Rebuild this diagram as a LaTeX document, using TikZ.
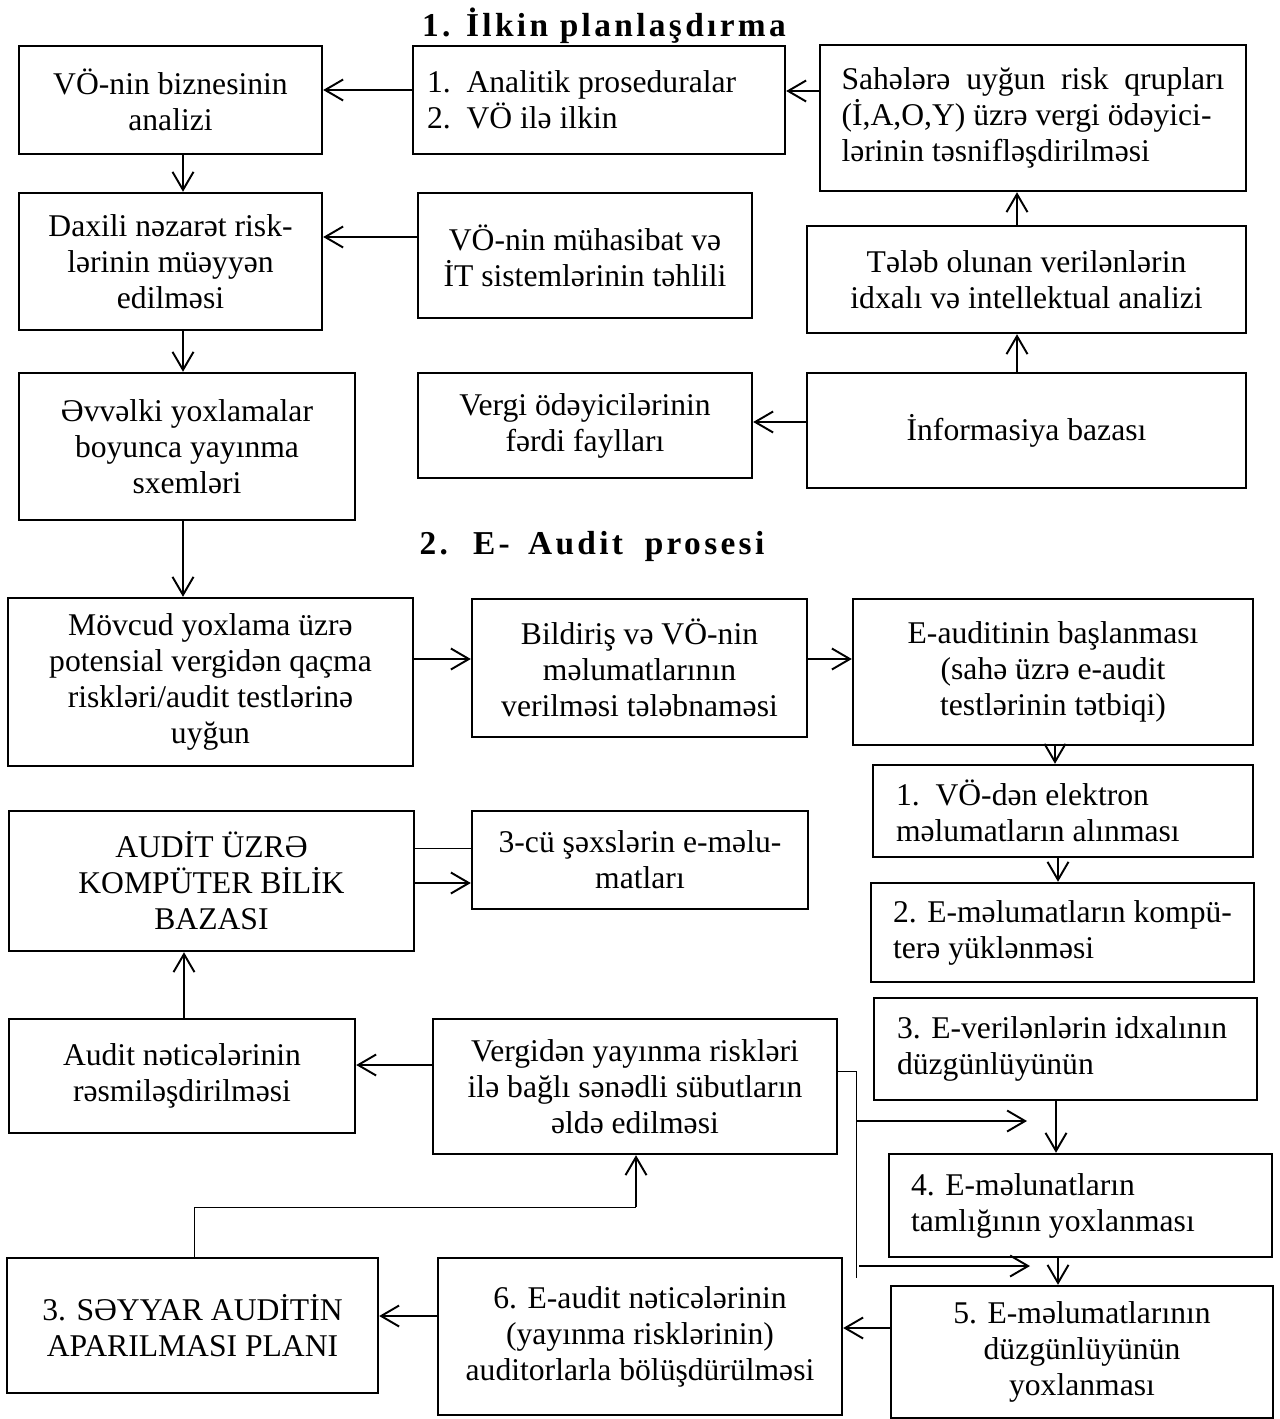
\documentclass[tikz,border=0pt]{standalone}
\usepackage{fontspec}
\setmainfont{Liberation Serif}
\newfontfamily\headfont[LetterSpace=10]{Liberation Serif}
\usetikzlibrary{arrows.meta}

\begin{document}
\begin{tikzpicture}[x=0.02cm,y=-0.02cm,>={Straight Barb[length=0.36cm,width=0.42cm]},
  box/.style={draw,line width=1.4pt,align=center,inner sep=0pt,
    font=\fontsize{18}{20.5}\selectfont},
  lbox/.style={box,align=flush left,inner xsep=0.4cm},
  head/.style={font=\fontsize{19}{21}\selectfont\headfont\bfseries},
  ar/.style={->,line width=1.1pt},
  ln/.style={line width=0.5pt}]
  \useasboundingbox (0,0) rectangle (1280,1419);

  % 1. Ilkin planlasdirma
  \node[head] (head1) at (604,26) {1. İlkin planlaşdırma};

  \node[box,minimum width=6.06cm,minimum height=2.16cm] (biz) at (170.5,100)
    {VÖ-nin biznesinin\\analizi};
  \node[lbox,minimum width=7.44cm,minimum height=2.16cm,inner xsep=0.28cm,text width=6.88cm] (proc) at (599,100)
    {1.\hspace{0.5em}Analitik proseduralar\\2.\hspace{0.5em}VÖ ilə ilkin};
  \node[box,minimum width=8.52cm,minimum height=2.92cm,align=left] (risk) at (1033,118)
    {Sahələrə\ \ uyğun\ \ risk\ \ qrupları\\(İ,A,O,Y) üzrə vergi ödəyici-\\lərinin təsnifləşdirilməsi};
  \node[box,minimum width=6.06cm,minimum height=2.74cm] (dax) at (170.5,261.5)
    {Daxili nəzarət risk-\\lərinin müəyyən\\edilməsi};
  \node[box,minimum width=6.68cm,minimum height=2.5cm] (it) at (585,255.5)
    {VÖ-nin mühasibat və\\İT sistemlərinin təhlili};
  \node[box,minimum width=8.78cm,minimum height=2.14cm] (idx) at (1026.5,279.5)
    {Tələb olunan verilənlərin\\idxalı və intellektual analizi};
  \node[box,minimum width=6.72cm,minimum height=2.94cm] (sxem) at (187,446.5)
    {Əvvəlki yoxlamalar\\boyunca yayınma\\sxemləri};
  \node[box,minimum width=6.68cm,minimum height=2.1cm] (fayl) at (585,425.5)
    {Vergi ödəyicilərinin\\fərdi faylları};
  \node[box,minimum width=8.78cm,minimum height=2.3cm] (info) at (1026.5,430.5)
    {İnformasiya bazası};

  \draw[ar] (risk.west |- 0,91) -- (proc.east |- 0,91);
  \draw[ar] (proc.west |- 0,90) -- (biz.east |- 0,90);
  \draw[ar] (biz.south -| 183,0) -- (dax.north -| 183,0);
  \draw[ar] (it.west |- 0,237) -- (dax.east |- 0,237);
  \draw[ar] (idx.north -| 1017,0) -- (risk.south -| 1017,0);
  \draw[ar] (dax.south -| 183,0) -- (sxem.north -| 183,0);
  \draw[ar] (info.north -| 1017,0) -- (idx.south -| 1017,0);
  \draw[ar] (info.west |- 0,422) -- (fayl.east |- 0,422);

  % 2. E-Audit prosesi
  \node[head] (head2) at (592,546) {2.\hspace{0.75em}E-\hspace{0.55em}Audit\hspace{0.65em}prosesi};

  \node[box,minimum width=8.1cm,minimum height=3.36cm] (movc) at (210.5,682)
    {Mövcud yoxlama üzrə\\potensial vergidən qaçma\\riskləri/audit testlərinə\\uyğun};
  \node[box,minimum width=6.7cm,minimum height=2.76cm] (bild) at (639.5,668)
    {Bildiriş və VÖ-nin\\məlumatlarının\\verilməsi tələbnaməsi};
  \node[box,minimum width=8.0cm,minimum height=2.92cm] (eaud) at (1053,672)
    {E-auditinin başlanması\\(sahə üzrə e-audit\\testlərinin tətbiqi)};
  \node[lbox,minimum width=7.6cm,minimum height=1.84cm,inner xsep=0.46cm,text width=6.68cm] (e1) at (1063,811)
    {1.\hspace{0.5em}VÖ-dən elektron\\məlumatların alınması};
  \node[lbox,minimum width=7.66cm,minimum height=1.98cm,inner xsep=0.44cm,text width=6.78cm] (e2) at (1062.5,932.5)
    {2. E-məlumatların kompü-\\terə yüklənməsi};
  \node[lbox,minimum width=7.66cm,minimum height=2.04cm,inner xsep=0.46cm,text width=6.74cm] (e3) at (1065.5,1049)
    {3. E-verilənlərin idxalının\\düzgünlüyünün};
  \node[lbox,minimum width=7.66cm,minimum height=2.06cm,inner xsep=0.44cm,text width=6.78cm] (e4) at (1080.5,1205.5)
    {4. E-məlunatların\\tamlığının yoxlanması};
  \node[box,minimum width=7.64cm,minimum height=2.64cm] (e5) at (1082,1352)
    {5. E-məlumatlarının\\düzgünlüyünün\\yoxlanması};

  \node[box,minimum width=8.1cm,minimum height=2.8cm] (baza) at (211.5,881)
    {AUDİT ÜZRƏ\\KOMPÜTER BİLİK\\BAZASI};
  \node[box,minimum width=6.72cm,minimum height=1.96cm] (third) at (640,860)
    {3-cü şəxslərin e-məlu-\\matları};
  \node[box,minimum width=6.92cm,minimum height=2.28cm] (netc) at (182,1076)
    {Audit nəticələrinin\\rəsmiləşdirilməsi};
  \node[box,minimum width=8.08cm,minimum height=2.7cm] (subut) at (635,1086.5)
    {Vergidən yayınma riskləri\\ilə bağlı sənədli sübutların\\əldə edilməsi};
  \node[box,minimum width=7.42cm,minimum height=2.7cm] (seyyar) at (192.5,1325.5)
    {3. SƏYYAR AUDİTİN\\APARILMASI PLANI};
  \node[box,minimum width=8.08cm,minimum height=3.14cm] (e6) at (640,1336.5)
    {6. E-audit nəticələrinin\\(yayınma risklərinin)\\auditorlarla bölüşdürülməsi};

  \draw[ar] (sxem.south -| 183,0) -- (movc.north -| 183,0);
  \draw[ar] (movc.east |- 0,659) -- (bild.west |- 0,659);
  \draw[ar] (bild.east |- 0,659) -- (eaud.west |- 0,659);
  \draw[ar] (eaud.south -| 1055,0) -- (e1.north -| 1055,0);
  \draw[ar] (e1.south -| 1058,0) -- (e2.north -| 1058,0);
  \draw[ar] (e3.south -| 1056,0) -- (e4.north -| 1056,0);
  \draw[ar] (e4.south -| 1058,0) -- (e5.north -| 1058,0);
  \draw[ln] (baza.east |- 0,848) -- (third.west |- 0,848);
  \draw[ar] (baza.east |- 0,883) -- (third.west |- 0,883);
  \draw[ar] (subut.west |- 0,1065) -- (netc.east |- 0,1065);
  \draw[ar] (netc.north -| 184,0) -- (baza.south -| 184,0);
  \draw[ar] (e5.west |- 0,1328) -- (e6.east |- 0,1328);
  \draw[ar] (e6.west |- 0,1316) -- (seyyar.east |- 0,1316);

  % thin feed from the evidence box to steps 3 and 5
  \coordinate (tapEnd) at (856,1278);
  \coordinate (a3s) at (857,1121);
  \coordinate (a3e) at (1027,1121);
  \coordinate (a5s) at (859,1266);
  \coordinate (a5e) at (1030,1266);
  \draw[ln] (subut.east |- 0,1071) -| (tapEnd);
  \draw[ar] (a3s) -- (a3e);
  \draw[ar] (a5s) -- (a5e);

  \coordinate (bend) at (636,1207);
  \draw[ln] (seyyar.north -| 194,0) |- (bend);
  \draw[ar] (bend) -- (subut.south -| bend);
\end{tikzpicture}
\end{document}
